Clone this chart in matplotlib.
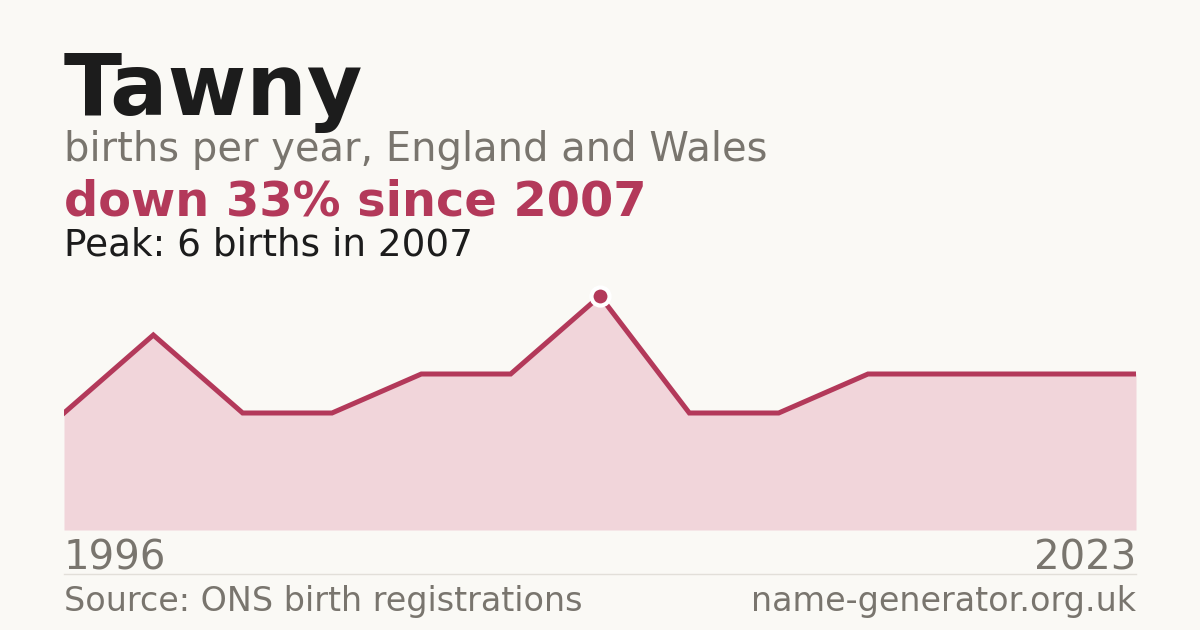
import matplotlib
matplotlib.use("Agg")
import matplotlib.pyplot as plt
import numpy as np

# ---------------------------------------------------------------------------
# Data
# ---------------------------------------------------------------------------
years = [1996, 1998, 2000, 2001, 2003, 2005, 2007, 2009, 2011, 2014, 2017, 2020, 2023]
births = [3, 5, 3, 3, 4, 4, 6, 3, 3, 4, 4, 4, 4]

name = "Tawny"
subtitle = "births per year, England and Wales"
headline = "down 33% since 2007"
peak_note = "Peak: 6 births in 2007"
source = "Source: ONS birth registrations"
site = "name-generator.org.uk"

# ---------------------------------------------------------------------------
# Style
# ---------------------------------------------------------------------------
BG = "#faf9f5"
LINE = "#b3395a"
FILL = "#f1d5da"
DARK = "#1c1c1c"
GREY = "#79756e"

plt.rcParams["font.family"] = ["DejaVu Sans"]

W, H = 1200, 630
fig = plt.figure(figsize=(12, 6.3), dpi=100, facecolor=BG)


def px(x, y):
    """pixel (from top-left) -> figure fraction"""
    return x / W, 1 - y / H


# titles
fig.text(*px(64, 115), name, fontsize=61.3, fontweight="bold", color=DARK, va="baseline")
fig.text(*px(64, 161), subtitle, fontsize=28.8, color=GREY, va="baseline")
fig.text(*px(64, 215), headline, fontsize=34.5, fontweight="bold", color=LINE, va="baseline")
fig.text(*px(64, 255), peak_note, fontsize=26.9, color=DARK, va="baseline")

# chart
ax = fig.add_axes([64 / W, (H - 530) / H, 1072 / W, 260 / H])
ax.set_facecolor("none")
x = np.arange(len(births))
y = np.array(births)
ax.fill_between(x, 0, y, color=FILL, linewidth=0)
ax.plot(x, y, color=LINE, linewidth=3.6, solid_joinstyle="miter")
i_peak = int(np.argmax(y))
ax.plot(x[i_peak], y[i_peak], "o", markersize=13, color=LINE,
        markeredgecolor="white", markeredgewidth=3, zorder=5)
ax.set_xlim(0, len(births) - 1)
ax.set_ylim(0, max(births) * 260 / 234)
ax.axis("off")

# x labels
fig.text(*px(64, 570), str(years[0]), fontsize=29, color=GREY, va="baseline", ha="left")
fig.text(*px(1136, 570), str(years[-1]), fontsize=29, color=GREY, va="baseline", ha="right")

# separator
fig.add_artist(plt.Line2D([64 / W, 1136 / W], [1 - 574 / H, 1 - 574 / H],
                          color="#e2dfd9", linewidth=1))

# footer
fig.text(*px(64, 611), source, fontsize=24, color=GREY, va="baseline", ha="left")
fig.text(*px(1136, 611), site, fontsize=24, color=GREY, va="baseline", ha="right")

fig.savefig("out.png", dpi=100, facecolor=BG)
